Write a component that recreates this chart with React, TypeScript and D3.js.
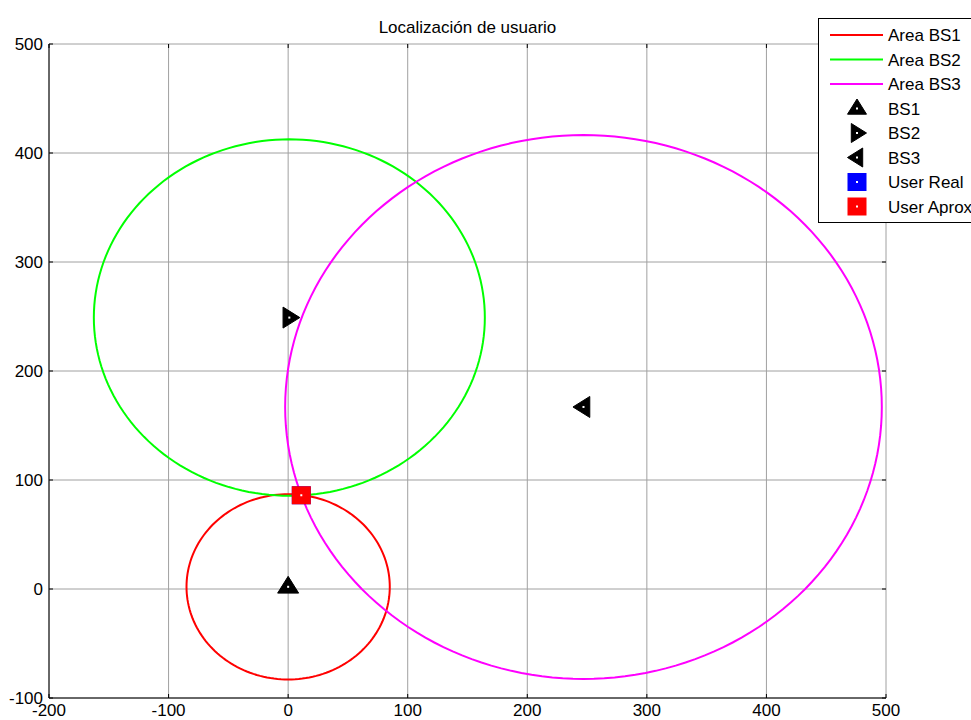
import React from "react";
import * as d3 from "d3";

const W = 971;
const H = 720;
const MARGIN = { top: 44, right: 85, bottom: 22, left: 49 };

const xTicks = [-200, -100, 0, 100, 200, 300, 400, 500];
const yTicks = [-100, 0, 100, 200, 300, 400, 500];

// base stations: x, y, coverage radius
const bsNames = ["BS1", "BS2", "BS3"];
const bsX = [0, 1, 247];
const bsY = [2, 249, 167];
const bsRadius = [85, 163.5, 249.5];
const areaColors = ["#ff0000", "#00ff00", "#ff00ff"];

const userReal = [11, 86];
const userAprox = [11, 86];

const legendLabels = ["Area BS1", "Area BS2", "Area BS3", "BS1", "BS2", "BS3", "User Real", "User Aprox"];

const FONT = "Arial, 'Liberation Sans', Helvetica, sans-serif";
const FS = 17;

function triangle(kind: string, cx: number, cy: number, s = 10.5) {
  let pts: number[][];
  if (kind === "up") pts = [[cx, cy - s], [cx + s, cy + s * 0.6], [cx - s, cy + s * 0.6]];
  else if (kind === "right") pts = [[cx + s, cy], [cx - s * 0.6, cy - s], [cx - s * 0.6, cy + s]];
  else pts = [[cx - s, cy], [cx + s * 0.6, cy - s], [cx + s * 0.6, cy + s]];
  return pts.map((p) => p.join(",")).join(" ");
}

const markerKinds = ["up", "right", "left"];

export default function App() {
  const bw = W - MARGIN.left - MARGIN.right;
  const bh = H - MARGIN.top - MARGIN.bottom;
  const x = d3.scaleLinear().domain([-200, 500]).range([MARGIN.left, MARGIN.left + bw]);
  const y = d3.scaleLinear().domain([-100, 500]).range([MARGIN.top + bh, MARGIN.top]);

  const circlePath = (cx: number, cy: number, r: number) => {
    const angles = d3.range(0, 361, 2).map((a) => (a * Math.PI) / 180);
    return d3.line<number>()
      .x((a) => x(cx + r * Math.cos(a)))
      .y((a) => y(cy + r * Math.sin(a)))(angles) as string;
  };

  const x0 = x(-200), x1 = x(500), y0 = y(-100), y1 = y(500);

  return (
    <svg width={W} height={H} style={{ position: "absolute", left: 0, top: 0, background: "#fff" }}>
      <rect width={W} height={H} fill="#fff" />
      {/* grid */}
      {xTicks.map((t) => (
        <line key={"gx" + t} x1={x(t)} x2={x(t)} y1={y0} y2={y1} stroke="#a0a0a0" strokeWidth={1} />
      ))}
      {yTicks.map((t) => (
        <line key={"gy" + t} x1={x0} x2={x1} y1={y(t)} y2={y(t)} stroke="#a0a0a0" strokeWidth={1} />
      ))}
      {/* ticks */}
      {xTicks.map((t) => (
        <g key={"tx" + t}>
          <line x1={x(t)} x2={x(t)} y1={y0} y2={y0 - 4} stroke="#000" />
          <line x1={x(t)} x2={x(t)} y1={y1} y2={y1 + 4} stroke="#000" />
          <text x={x(t)} y={y0 + 18} textAnchor="middle" fontSize={FS} fontFamily={FONT}>{t}</text>
        </g>
      ))}
      {yTicks.map((t) => (
        <g key={"ty" + t}>
          <line x1={x0} x2={x0 + 4} y1={y(t)} y2={y(t)} stroke="#000" />
          <line x1={x1} x2={x1 - 4} y1={y(t)} y2={y(t)} stroke="#000" />
          <text x={x0 - 6} y={y(t) + 6} textAnchor="end" fontSize={FS} fontFamily={FONT}>{t}</text>
        </g>
      ))}
      <line x1={x0} x2={x0} y1={y0} y2={y1} stroke="#000" />
      <line x1={x0} x2={x1} y1={y0} y2={y0} stroke="#000" />

      {/* coverage areas */}
      {bsNames.map((n, i) => (
        <path key={"c" + n} d={circlePath(bsX[i], bsY[i], bsRadius[i])} fill="none" stroke={areaColors[i]} strokeWidth={2} />
      ))}
      {/* base stations */}
      {bsNames.map((n, i) => (
        <g key={"m" + n}>
          <polygon points={triangle(markerKinds[i], x(bsX[i]), y(bsY[i]))} fill="#000" stroke="#000" strokeWidth={1} />
          <rect x={x(bsX[i]) - 1} y={y(bsY[i]) - 1} width={2} height={2} fill="#fff" />
        </g>
      ))}
      {/* users */}
      <rect x={x(userReal[0]) - 9.5} y={y(userReal[1]) - 9} width={19} height={18} fill="#0000ff" />
      <rect x={x(userAprox[0]) - 9.5} y={y(userAprox[1]) - 9} width={19} height={18} fill="#ff0000" />
      <rect x={x(userAprox[0]) - 1} y={y(userAprox[1]) - 1} width={2} height={2} fill="#fff" />

      <text x={(x0 + x1) / 2} y={33} textAnchor="middle" fontSize={FS} fontFamily={FONT}>Localización de usuario</text>

      {/* legend */}
      <g>
        <rect x={818.5} y={18.5} width={170} height={204} fill="#fff" stroke="#000" />
        {legendLabels.map((lab, i) => {
          const ly = 35 + i * 24.5;
          let sym: React.ReactNode = null;
          if (i < 3) {
            sym = <line x1={830} x2={883} y1={ly} y2={ly} stroke={areaColors[i]} strokeWidth={2} />;
          } else if (i < 6) {
            sym = (
              <g>
                <polygon points={triangle(markerKinds[i - 3], 857, ly, 9.5)} fill="#000" stroke="#000" strokeWidth={1} />
                <rect x={856} y={ly - 1} width={2} height={2} fill="#fff" />
              </g>
            );
          } else {
            sym = (
              <g>
                <rect x={847.5} y={ly - 9} width={19} height={18} fill={i === 6 ? "#0000ff" : "#ff0000"} />
                <rect x={856} y={ly - 1} width={2} height={2} fill="#fff" />
              </g>
            );
          }
          return (
            <g key={lab}>
              {sym}
              <text x={888} y={ly + 6} fontSize={FS} fontFamily={FONT}>{lab}</text>
            </g>
          );
        })}
      </g>
    </svg>
  );
}
